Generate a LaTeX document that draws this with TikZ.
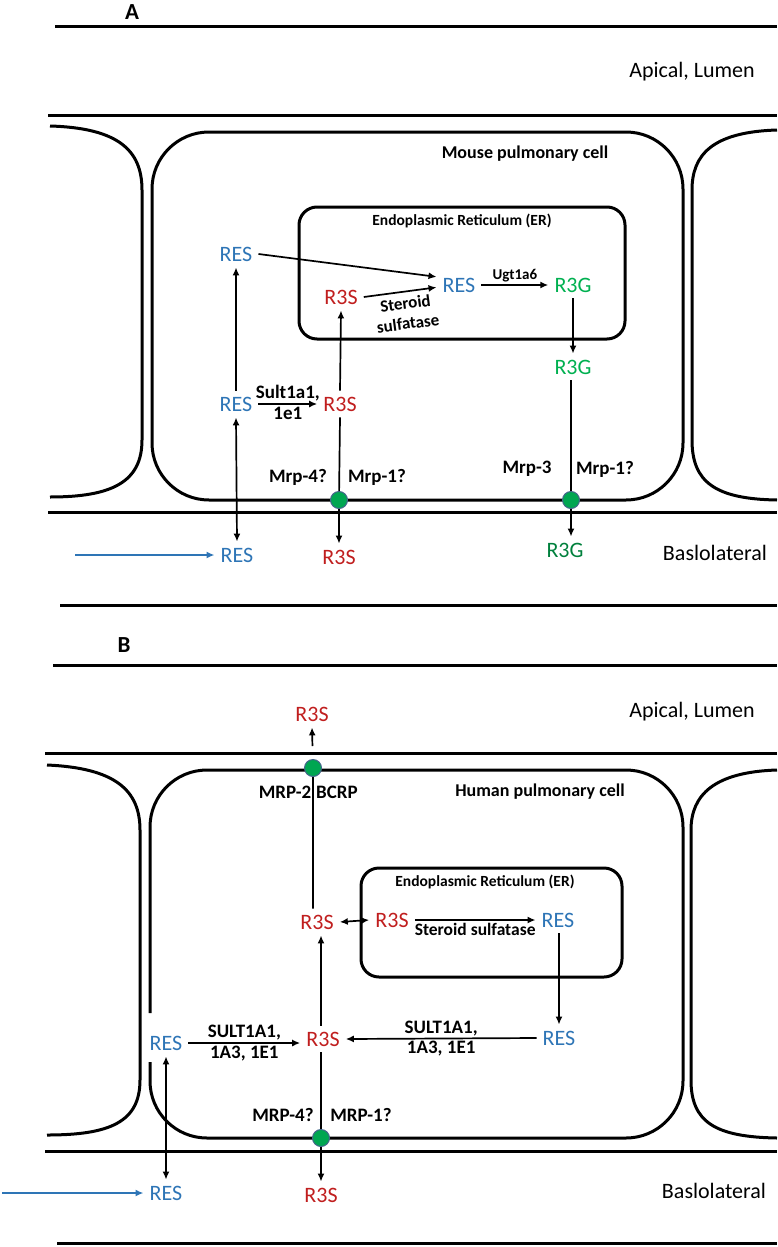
\documentclass[tikz,border=0pt]{standalone}
\usepackage{fontspec}
\setmainfont{Carlito}
\usetikzlibrary{arrows.meta}
\definecolor{resblue}{RGB}{46,117,182}
\definecolor{sulfred}{RGB}{192,30,30}
\definecolor{glucgreen}{RGB}{0,176,80}
\definecolor{darkgluc}{RGB}{0,128,60}
\definecolor{pumpfill}{RGB}{0,166,81}
\definecolor{pumpedge}{RGB}{70,100,140}
\begin{document}
\begin{tikzpicture}[x=1pt,y=-1pt]
        \tikzset{wall/.style = {line width=3pt}}
        \tikzset{flow/.style = {line width=1.7pt,-{Latex[length=8pt,width=7pt]}}}
        \tikzset{twoway/.style = {line width=1.7pt,{Latex[length=8pt,width=7pt]}-{Latex[length=8pt,width=7pt]}}}
        \tikzset{res/.style = {text=resblue,font=\fontsize{22}{24}\selectfont,inner sep=6pt}}
        \tikzset{rts/.style = {res,text=sulfred}}
        \tikzset{rtg/.style = {res,text=glucgreen}}
        \tikzset{enzyme/.style = {font=\bfseries\fontsize{19}{21}\selectfont,inner sep=2pt,align=center}}
        \tikzset{side/.style = {font=\fontsize{22}{24}\selectfont}}
        \tikzset{title/.style = {font=\bfseries\fontsize{18}{20}\selectfont}}
        \tikzset{ertitle/.style = {font=\bfseries\fontsize{15.5}{17}\selectfont}}
        \tikzset{pump/.style = {circle,fill=pumpfill,draw=pumpedge,line width=1pt,minimum size=17pt,inner sep=0pt}}
        \useasboundingbox (0,0) rectangle (777,1247);
        % panel A: membranes
        \node[font=\bfseries\fontsize{23}{25}\selectfont] (panA) at (132,12) {A};
        \draw[wall] (55,27) -- (777,27);
        \draw[wall] (48,115) -- (777,115);
        \draw[wall] (48,512) -- (777,512);
        \draw[wall] (60,605) -- (777,605);
        \node[side] (apicalA) at (692,72) {Apical, Lumen};
        \node[side] (basalA) at (715,553) {Baslolateral};
        % panel A: cells
        \draw[wall] (50,126) .. controls (118,128) and (142,150) .. (142,190) -- (142,440) .. controls (142,482) and (112,497) .. (50,497);
        \draw[wall] (777,130) .. controls (712,132) and (692,155) .. (692,190) -- (692,440) .. controls (692,482) and (715,499) .. (777,500);
        \draw[wall,rounded corners=57pt] (152,132) rectangle (683,500);
        \draw[wall,rounded corners=18pt] (299,207) rectangle (625,339);
        \node[title] (cellA) at (525,154) {Mouse pulmonary cell};
        \node[ertitle] (erA) at (462,221) {Endoplasmic Reticulum (ER)};
        % panel A: compounds
        \node[res] (resA1) at (236,254) {RES};
        \node[res] (resA2) at (236,404) {RES};
        \node[res] (resA3) at (237,555) {RES};
        \node[res] (resERA) at (459,285) {RES};
        \node[rts] (r3sERA) at (341,297) {R3S};
        \node[rts] (r3sA2) at (340,404) {R3S};
        \node[rts] (r3sA3) at (339,557) {R3S};
        \node[rtg] (r3gA1) at (573,285) {R3G};
        \node[rtg] (r3gA2) at (573,367) {R3G};
        \node[rtg,text=darkgluc] (r3gA3) at (565,550) {R3G};
        \node[pump] (pumpA1) at (339,500) {};
        \node[pump] (pumpA2) at (571,500) {};
        \coordinate (inflowA) at (75,555);
        % panel A: reactions and transport
        \draw[flow] (resA1.east) -- (resERA.160);
        \draw[flow] (r3sERA.east) -- (resERA.186) node[enzyme,sloped,below=3pt,pos=0.55,font=\bfseries\fontsize{17}{20}\selectfont] {Steroid\\sulfatase};
        \draw[flow] (resERA.east) -- (r3gA1.west) node[enzyme,above,midway,font=\bfseries\fontsize{15}{17}\selectfont] {Ugt1a6};
        \draw[flow] (r3gA1.south) -- (r3gA2.north);
        \draw[flow] (resA2.north) -- (resA1.south);
        \draw[flow] (resA2.east) -- (r3sA2.west) node[enzyme,above,midway] {Sult1a1,} node[enzyme,below,midway] {1e1};
        \draw[flow] (r3sA2.north) -- (r3sERA.south);
        \draw[twoway] (resA2.south) -- (resA3.north);
        \draw[flow] (r3sA2.south) -- (pumpA1) -- (r3sA3.north);
        \draw[flow] (r3gA2.south -| pumpA2) -- (pumpA2) -- (pumpA2 |- r3gA3.north);
        \draw[flow,resblue,line width=1.8pt] (inflowA) -- (resA3.west);
        \node[enzyme] (mrp4A) at (298,477) {Mrp-4?};
        \node[enzyme] (mrp1A) at (377,477) {Mrp-1?};
        \node[enzyme] (mrp3A) at (527,469) {Mrp-3};
        \node[enzyme] (mrp1bA) at (605,469) {Mrp-1?};
        % panel B: membranes
        \node[font=\bfseries\fontsize{23}{25}\selectfont] (panB) at (124,645) {B};
        \draw[wall] (53,665) -- (777,665);
        \draw[wall] (45,753) -- (777,753);
        \draw[wall] (45,1151) -- (777,1151);
        \draw[wall] (57,1243) -- (777,1243);
        \node[side] (apicalB) at (692,712) {Apical, Lumen};
        \node[side] (basalB) at (714,1191) {Baslolateral};
        % panel B: cells
        \draw[wall] (47,765) .. controls (115,768) and (140,790) .. (140,830) -- (140,1080) .. controls (140,1122) and (110,1135) .. (47,1135);
        \draw[wall] (777,770) .. controls (714,772) and (691,795) .. (691,830) -- (691,1080) .. controls (691,1122) and (715,1137) .. (777,1138);
        \draw[wall,rounded corners=57pt] (150,1013) -- (150,770) -- (683,770) -- (683,1138) -- (150,1138) -- (150,1062);
        \draw[wall,rounded corners=18pt] (361,868) rectangle (622,977);
        \node[title] (cellB) at (540,792) {Human pulmonary cell};
        \node[ertitle] (erB) at (485,882) {Endoplasmic Reticulum (ER)};
        % panel B: compounds
        \node[rts] (r3sB0) at (312,714) {R3S};
        \node[rts] (r3sB1) at (317,922) {R3S};
        \node[rts] (r3sERB) at (392,920) {R3S};
        \node[res] (resERB) at (558,920) {RES};
        \node[res] (resB2) at (559,1038) {RES};
        \node[rts] (r3sB2) at (323,1039) {R3S};
        \node[res] (resB1) at (166,1043) {RES};
        \node[res] (resB3) at (166,1193) {RES};
        \node[rts] (r3sB3) at (321,1195) {R3S};
        \node[pump] (pumpB0) at (313,768) {};
        \node[pump] (pumpB1) at (321,1138) {};
        \coordinate (inflowB) at (2,1193);
        % panel B: reactions and transport
        \draw[flow,shorten <=13pt] (r3sB1.north -| pumpB0) -- (pumpB0) -- (r3sB0.south);
        \node[enzyme] (mrp2B) at (285,792) {MRP-2};
        \node[enzyme,anchor=west] (bcrpB) at (314,792) {BCRP};
        \draw[twoway] (r3sB1.east) -- (r3sERB.west);
        \draw[flow] (r3sERB.east) -- (resERB.west) node[enzyme,below,midway,font=\bfseries\fontsize{17.5}{19}\selectfont] {Steroid sulfatase};
        \draw[flow] (resERB.south -| resB2) -- (resB2.north);
        \draw[flow] (resB2.west) -- (r3sB2.east) node[enzyme,above,midway] {SULT1A1,} node[enzyme,below,midway] {1A3, 1E1};
        \draw[flow] (resB1.east) -- (resB1.east -| r3sB2.west) node[enzyme,above,midway] {SULT1A1,} node[enzyme,below,midway] {1A3, 1E1};
        \draw[flow] (r3sB2.north -| r3sB3) -- (r3sB1.south -| r3sB3);
        \draw[twoway] (resB1.south) -- (resB3.north);
        \draw[flow] (r3sB2.south -| r3sB3) -- (pumpB1) -- (r3sB3.north);
        \draw[flow,resblue,line width=1.8pt] (inflowB) -- (resB3.west);
        \node[enzyme] (mrp4B) at (283,1115) {MRP-4?};
        \node[enzyme] (mrp1B) at (361,1115) {MRP-1?};
\end{tikzpicture}
\end{document}
